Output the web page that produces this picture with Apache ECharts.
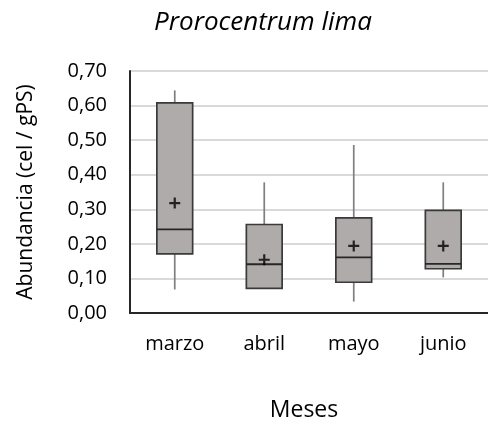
<!DOCTYPE html>
<html>
<head>
<meta charset="utf-8">
<script src="https://cdn.jsdelivr.net/npm/echarts@6/dist/echarts.min.js"></script>
<style>
  html, body { margin: 0; padding: 0; background: #fff; }
  #chart { width: 488px; height: 427px; }
</style>
</head>
<body>
<div id="chart"></div>
<script>
const months = ["marzo", "abril", "mayo", "junio"];
const whiskerLow = [0.068, 0.071, 0.033, 0.103];
const quartile1 = [0.171, 0.071, 0.089, 0.128];
const medians = [0.242, 0.141, 0.161, 0.142];
const quartile3 = [0.608, 0.256, 0.275, 0.297];
const whiskerHigh = [0.644, 0.378, 0.486, 0.378];
const means = [0.318, 0.154, 0.194, 0.194];

const FONT = "'Open Sans', 'Liberation Sans', sans-serif";
const PLUS = "path://M4,0 H6 V4 H10 V6 H6 V10 H4 V6 H0 V4 H4 Z";

const boxRows = months.map((m, i) => [i, whiskerLow[i], quartile1[i], medians[i], quartile3[i], whiskerHigh[i]]);

function renderBox(params, api) {
  const idx = api.value(0);
  const lo = api.coord([idx, api.value(1)]);
  const q1 = api.coord([idx, api.value(2)]);
  const med = api.coord([idx, api.value(3)]);
  const q3 = api.coord([idx, api.value(4)]);
  const hi = api.coord([idx, api.value(5)]);
  const bw = api.size([1, 0])[0] * 0.4;
  const x = lo[0];

  return {
    type: "group",
    children: [
      {
        type: "line",
        shape: { x1: x, y1: hi[1], x2: x, y2: q3[1] },
        style: { stroke: "#7f7f7f", lineWidth: 1.7 }
      },
      {
        type: "line",
        shape: { x1: x, y1: q1[1], x2: x, y2: lo[1] },
        style: { stroke: "#7f7f7f", lineWidth: 1.7 }
      },
      {
        type: "rect",
        shape: { x: x - bw / 2, y: q3[1], width: bw, height: q1[1] - q3[1] },
        style: { fill: "#afabab", stroke: "#3a3a3a", lineWidth: 1.7 }
      },
      {
        type: "line",
        shape: { x1: x - bw / 2, y1: med[1], x2: x + bw / 2, y2: med[1] },
        style: { stroke: "#262626", lineWidth: 1.8 }
      }
    ]
  };
}

const chart = echarts.init(document.getElementById("chart"));

chart.setOption({
  backgroundColor: "#ffffff",
  animation: false,
  title: {
    text: "Prorocentrum lima",
    left: 258,
    top: 5,
    textAlign: "center",
    textStyle: {
      fontFamily: FONT,
      fontStyle: "italic",
      fontWeight: "normal",
      fontSize: 26,
      color: "#000"
    }
  },
  grid: {
    left: 130,
    right: -2,
    top: 71,
    bottom: 111
  },
  xAxis: {
    type: "category",
    data: months,
    name: "Meses",
    nameLocation: "middle",
    nameGap: 86,
    nameTextStyle: { fontFamily: FONT, fontSize: 23, color: "#000", padding: [0, 10, 0, 0] },
    axisLine: { lineStyle: { color: "#262626", width: 2 } },
    axisTick: { show: false },
    axisLabel: {
      fontFamily: FONT,
      fontSize: 20,
      color: "#000",
      margin: 21
    }
  },
  yAxis: {
    type: "value",
    min: 0,
    max: 0.7,
    interval: 0.1,
    name: "Abundancia (cel / gPS)",
    nameLocation: "middle",
    nameGap: 93,
    nameTextStyle: { fontFamily: FONT, fontSize: 21, color: "#000" },
    axisLine: { show: true, lineStyle: { color: "#262626", width: 2 } },
    axisTick: { show: false },
    axisLabel: {
      fontFamily: FONT,
      fontSize: 20,
      color: "#000",
      margin: 23,
      formatter: (v) => v.toFixed(2).replace(".", ",")
    },
    splitLine: { lineStyle: { color: "#d9d9d9", width: 2 } }
  },
  series: [
    {
      type: "custom",
      renderItem: renderBox,
      encode: { x: 0, y: [1, 2, 3, 4, 5] },
      data: boxRows,
      z: 2
    },
    {
      type: "scatter",
      data: means.map((v, i) => [i, v]),
      symbol: PLUS,
      symbolSize: 11,
      itemStyle: { color: "#000" },
      z: 3
    }
  ]
});
</script>
</body>
</html>
